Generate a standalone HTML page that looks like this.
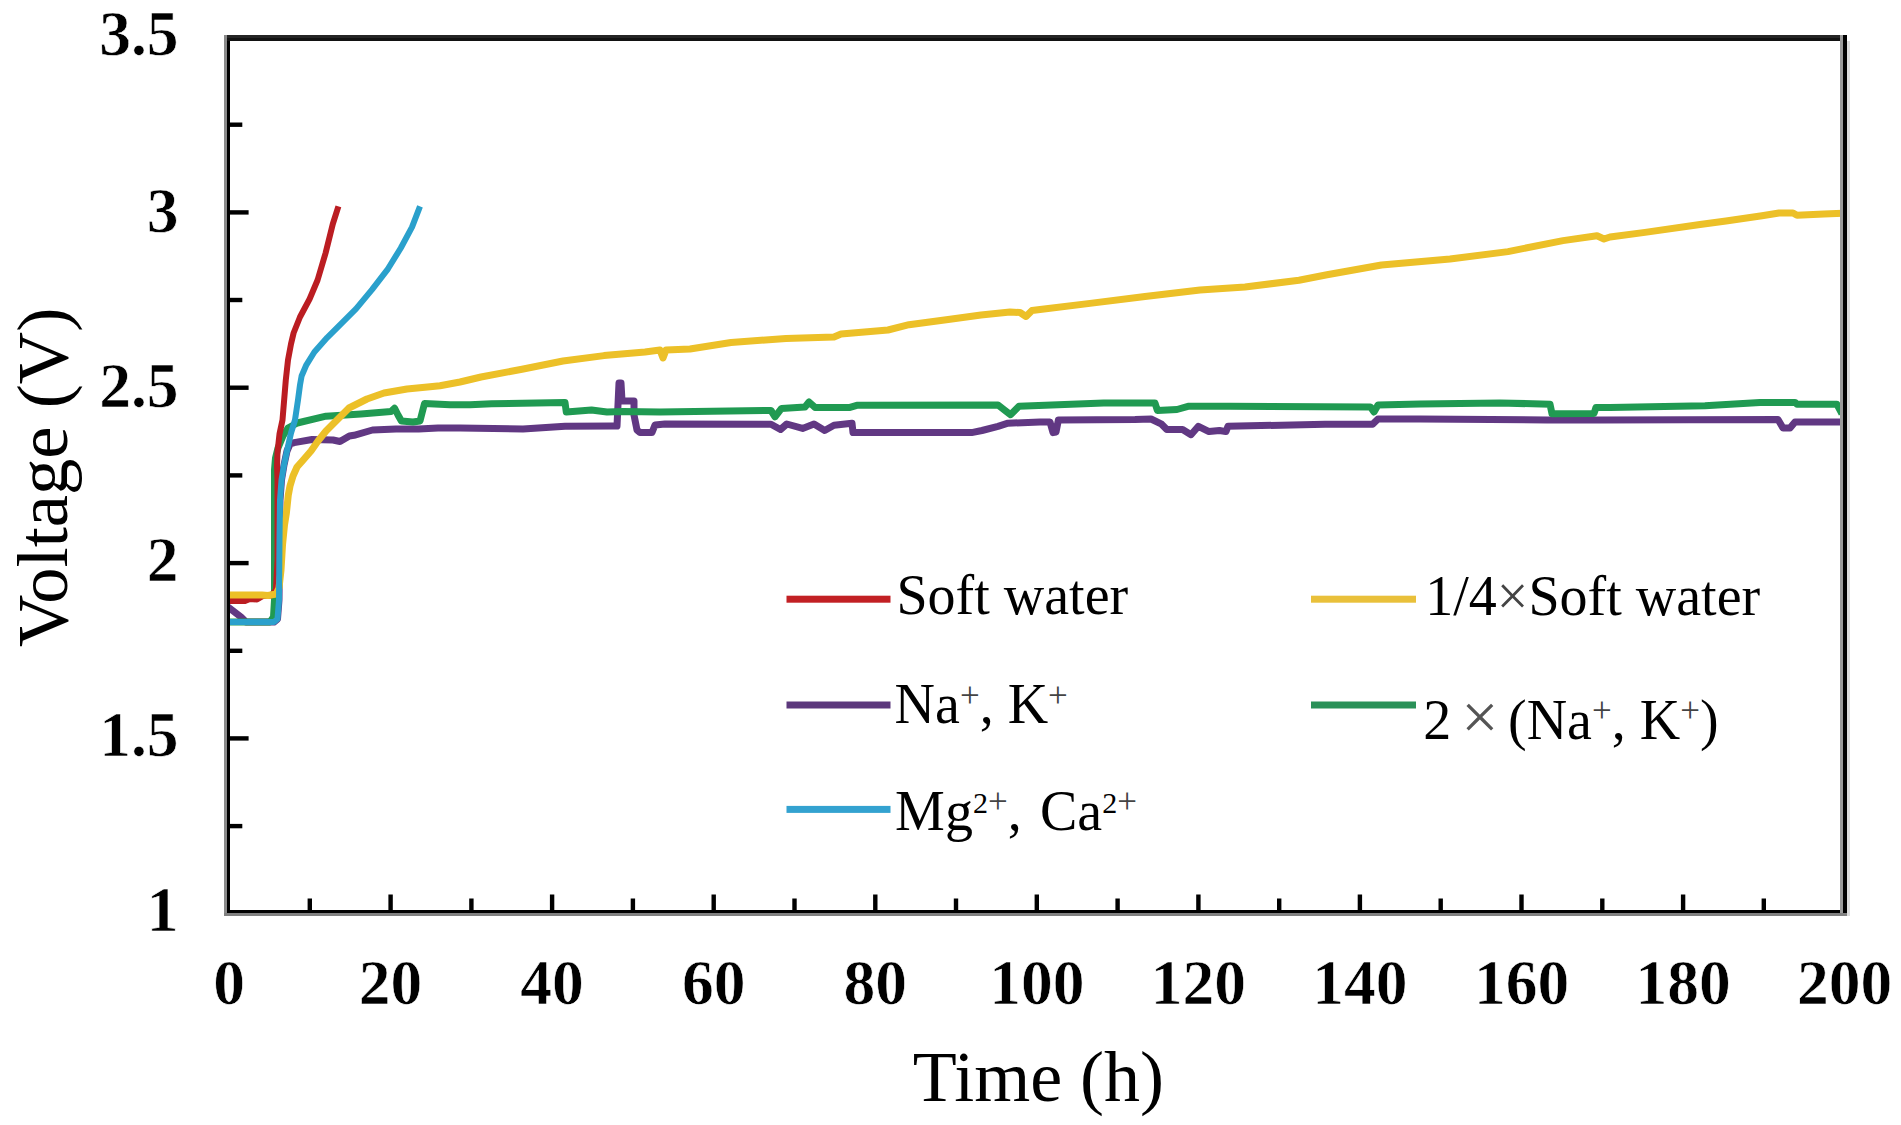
<!DOCTYPE html><html><head><meta charset="utf-8"><title>Voltage vs Time</title><style>html,body{margin:0;padding:0;background:#fff;}svg{display:block;}text{font-family:"Liberation Serif","Times New Roman",serif;fill:#000;}.tl{stroke:#fff;stroke-width:0.6px;}</style></head><body>
<svg width="1901" height="1125" viewBox="0 0 1901 1125">
<rect width="1901" height="1125" fill="#fff"/>
<polyline points="228.0,607.0 241.0,617.0 246.0,622.0 274.0,622.0 277.5,619.0 279.0,600.0 279.5,540.0 280.0,500.0 281.5,480.0 284.0,465.0 287.0,451.0 290.0,444.0 294.2,442.6 312.0,439.5 333.0,440.0 340.0,441.5 349.4,436.0 354.0,435.3 372.5,430.0 396.0,429.0 418.7,429.0 438.0,428.0 460.0,427.9 523.0,429.0 565.0,426.3 612.0,426.0 617.0,426.0 619.0,383.0 621.0,383.0 622.0,401.0 634.0,401.0 634.0,415.0 637.0,430.0 640.0,432.5 652.0,432.5 655.0,425.0 665.0,424.0 771.0,424.2 780.5,429.5 786.8,424.0 802.6,428.4 814.0,424.0 824.7,430.5 834.0,425.3 852.0,423.2 853.0,432.6 971.6,432.6 982.0,430.5 998.0,426.3 1008.0,423.2 1040.0,422.0 1050.0,422.0 1053.0,432.6 1056.0,432.0 1058.4,420.0 1135.0,419.5 1151.0,419.0 1161.6,424.2 1166.8,429.5 1182.6,429.5 1191.0,434.7 1198.4,426.3 1209.0,431.6 1219.5,430.5 1226.0,431.6 1228.0,426.3 1325.0,424.2 1372.6,424.2 1378.0,419.0 1420.0,419.0 1547.0,420.0 1600.0,420.0 1778.0,419.5 1783.0,428.0 1790.0,428.0 1795.0,422.0 1840.0,422.0" fill="none" stroke="#613883" stroke-width="7.0" stroke-linejoin="round" stroke-linecap="butt"/>
<polyline points="229.0,622.0 270.0,622.0 273.5,617.0 274.5,600.0 274.5,470.0 275.5,458.0 278.0,448.0 283.0,436.0 288.0,428.0 297.3,423.0 326.0,416.2 361.0,414.0 391.0,411.6 394.5,408.2 398.0,415.0 401.4,421.0 413.0,422.0 420.0,421.0 424.5,403.5 450.0,404.7 470.0,404.7 491.6,403.7 565.0,402.6 566.3,412.0 591.5,410.0 607.0,412.0 623.0,411.5 660.0,412.0 771.0,410.5 775.0,416.8 781.5,408.4 805.0,407.0 809.0,402.0 815.0,407.4 850.0,407.4 856.8,405.3 998.0,405.0 1010.5,414.7 1019.0,406.3 1103.7,403.0 1155.0,403.0 1157.4,410.5 1177.0,409.5 1188.0,406.3 1230.0,406.3 1370.5,407.0 1374.0,412.0 1378.0,405.0 1420.0,404.0 1500.0,403.0 1550.0,404.2 1552.0,413.7 1594.0,413.5 1596.0,407.4 1610.0,407.5 1705.0,405.7 1760.0,402.4 1795.0,402.4 1797.0,404.3 1837.0,404.3 1842.0,414.0" fill="none" stroke="#209a52" stroke-width="7.0" stroke-linejoin="round" stroke-linecap="butt"/>
<polyline points="230.0,601.0 245.0,601.0 250.0,599.0 257.0,599.5 263.0,596.0 271.0,595.5 276.0,590.0 277.5,560.0 277.5,480.0 277.0,466.0 277.5,452.0 279.5,434.0 282.5,420.0 285.8,380.0 288.0,360.0 291.0,344.0 293.6,333.0 300.0,317.0 309.6,299.0 317.6,280.0 325.6,253.0 332.8,224.0 338.4,206.4" fill="none" stroke="#bb1d22" stroke-width="6.0" stroke-linejoin="round" stroke-linecap="butt"/>
<polyline points="229.0,595.0 262.0,595.0 268.0,595.5 276.0,594.0 279.0,588.0 281.0,570.0 282.5,545.0 284.5,525.0 286.4,513.0 288.3,495.0 290.0,486.0 293.0,476.0 297.0,467.0 303.0,460.2 311.0,451.0 318.0,441.0 326.0,431.0 338.0,419.0 349.0,408.0 367.0,399.0 384.0,393.0 407.0,389.0 430.0,386.8 440.0,385.7 460.0,382.0 481.0,377.0 522.0,369.2 563.0,361.0 604.0,355.6 645.0,352.0 660.0,350.0 663.0,358.0 666.0,350.0 690.0,349.0 731.0,342.5 786.0,338.4 834.0,337.0 841.0,334.0 888.0,330.0 909.0,324.7 950.0,319.2 981.0,315.0 1010.0,312.0 1020.0,312.5 1026.0,316.5 1032.0,310.5 1040.0,309.5 1090.0,303.4 1145.0,296.5 1200.0,290.0 1245.0,287.0 1299.0,280.2 1327.0,274.7 1381.5,265.0 1450.0,259.0 1508.0,251.6 1563.0,240.6 1597.0,235.8 1604.0,239.0 1610.0,237.0 1645.0,232.4 1700.0,224.5 1726.0,221.0 1762.0,215.8 1779.0,213.0 1793.0,213.0 1797.0,215.3 1824.0,214.0 1849.0,213.0" fill="none" stroke="#ecc028" stroke-width="7.0" stroke-linejoin="round" stroke-linecap="butt"/>
<polyline points="229.0,622.0 274.0,622.0 277.5,619.0 279.0,600.0 279.5,540.0 280.0,500.0 281.5,480.0 284.0,465.0 287.0,451.0 291.0,433.0 295.0,420.0 298.0,400.0 300.0,385.0 301.6,376.0 306.4,364.8 314.4,352.0 327.2,337.6 340.0,324.8 356.0,308.8 372.0,289.6 388.0,268.8 400.8,248.0 412.0,227.2 420.0,206.4" fill="none" stroke="#2aa0cc" stroke-width="6.0" stroke-linejoin="round" stroke-linecap="butt"/>
<g shape-rendering="crispEdges">
<rect x="224" y="35" width="3" height="881" fill="#8a8a8a"/>
<rect x="227" y="35" width="3" height="878" fill="#000"/>
<rect x="224" y="913" width="1623" height="3" fill="#808080"/>
<rect x="227" y="910" width="1620" height="3" fill="#000"/>
<rect x="227" y="35" width="1620" height="3" fill="#252525"/>
<rect x="227" y="38" width="1620" height="3" fill="#121212"/>
<rect x="1840" y="35" width="3" height="878" fill="#9a9a9a"/>
<rect x="1843" y="35" width="4" height="878" fill="#000"/>
<rect x="1847" y="41" width="3" height="875" fill="#dcdcdc"/>
</g>
<g><rect x="307.6" y="898.5" width="4.4" height="11.5" fill="#000"/><rect x="388.4" y="894.5" width="4.4" height="15.5" fill="#000"/><rect x="469.2" y="898.5" width="4.4" height="11.5" fill="#000"/><rect x="549.9" y="894.5" width="4.4" height="15.5" fill="#000"/><rect x="630.7" y="898.5" width="4.4" height="11.5" fill="#000"/><rect x="711.5" y="894.5" width="4.4" height="15.5" fill="#000"/><rect x="792.3" y="898.5" width="4.4" height="11.5" fill="#000"/><rect x="873.1" y="894.5" width="4.4" height="15.5" fill="#000"/><rect x="953.8" y="898.5" width="4.4" height="11.5" fill="#000"/><rect x="1034.6" y="894.5" width="4.4" height="15.5" fill="#000"/><rect x="1115.4" y="898.5" width="4.4" height="11.5" fill="#000"/><rect x="1196.2" y="894.5" width="4.4" height="15.5" fill="#000"/><rect x="1277.0" y="898.5" width="4.4" height="11.5" fill="#000"/><rect x="1357.7" y="894.5" width="4.4" height="15.5" fill="#000"/><rect x="1438.5" y="898.5" width="4.4" height="11.5" fill="#000"/><rect x="1519.3" y="894.5" width="4.4" height="15.5" fill="#000"/><rect x="1600.1" y="898.5" width="4.4" height="11.5" fill="#000"/><rect x="1680.9" y="894.5" width="4.4" height="15.5" fill="#000"/><rect x="1761.6" y="898.5" width="4.4" height="11.5" fill="#000"/><rect x="230" y="823.9" width="12.3" height="4.4" fill="#000"/><rect x="230" y="736.2" width="18.6" height="4.4" fill="#000"/><rect x="230" y="648.6" width="12.3" height="4.4" fill="#000"/><rect x="230" y="560.9" width="18.6" height="4.4" fill="#000"/><rect x="230" y="473.2" width="12.3" height="4.4" fill="#000"/><rect x="230" y="385.5" width="18.6" height="4.4" fill="#000"/><rect x="230" y="297.8" width="12.3" height="4.4" fill="#000"/><rect x="230" y="210.2" width="18.6" height="4.4" fill="#000"/><rect x="230" y="122.5" width="12.3" height="4.4" fill="#000"/></g>
<text x="229.0" y="1004.4" font-size="63.5" font-weight="bold" text-anchor="middle" class="tl">0</text>
<text x="390.6" y="1004.4" font-size="63.5" font-weight="bold" text-anchor="middle" class="tl">20</text>
<text x="552.1" y="1004.4" font-size="63.5" font-weight="bold" text-anchor="middle" class="tl">40</text>
<text x="713.7" y="1004.4" font-size="63.5" font-weight="bold" text-anchor="middle" class="tl">60</text>
<text x="875.3" y="1004.4" font-size="63.5" font-weight="bold" text-anchor="middle" class="tl">80</text>
<text x="1036.8" y="1004.4" font-size="63.5" font-weight="bold" text-anchor="middle" class="tl">100</text>
<text x="1198.4" y="1004.4" font-size="63.5" font-weight="bold" text-anchor="middle" class="tl">120</text>
<text x="1359.9" y="1004.4" font-size="63.5" font-weight="bold" text-anchor="middle" class="tl">140</text>
<text x="1521.5" y="1004.4" font-size="63.5" font-weight="bold" text-anchor="middle" class="tl">160</text>
<text x="1683.1" y="1004.4" font-size="63.5" font-weight="bold" text-anchor="middle" class="tl">180</text>
<text x="1844.6" y="1004.4" font-size="63.5" font-weight="bold" text-anchor="middle" class="tl">200</text>
<text x="178.5" y="55.3" font-size="63.5" font-weight="bold" text-anchor="end" class="tl">3.5</text>
<text x="178.5" y="231.5" font-size="63.5" font-weight="bold" text-anchor="end" class="tl">3</text>
<text x="178.5" y="407.1" font-size="63.5" font-weight="bold" text-anchor="end" class="tl">2.5</text>
<text x="178.5" y="580.8" font-size="63.5" font-weight="bold" text-anchor="end" class="tl">2</text>
<text x="178.5" y="755.5" font-size="63.5" font-weight="bold" text-anchor="end" class="tl">1.5</text>
<text x="178.5" y="930.7" font-size="63.5" font-weight="bold" text-anchor="end" class="tl">1</text>
<text x="1038.4" y="1100.5" font-size="72" text-anchor="middle">Time (h)</text>
<text transform="translate(67,477.2) rotate(-90)" font-size="72.6" text-anchor="middle">Voltage (V)</text>
<rect x="786.5" y="595.7" width="104.0" height="7" fill="#c22024"/>
<rect x="786.5" y="701.5" width="104.0" height="7" fill="#5c387c"/>
<rect x="786.5" y="805.9" width="104.0" height="7" fill="#33a2d0"/>
<rect x="1311.0" y="595.7" width="105.0" height="7" fill="#e9c03a"/>
<rect x="1311.0" y="701.5" width="105.0" height="7" fill="#2a9158"/>
<text x="896.45" y="614.3" font-size="56">Soft water</text>
<text x="894.6" y="723.2" font-size="56">Na<tspan font-size="35" dy="-16.7" fill="#444">+</tspan><tspan dy="16.7">, K</tspan><tspan font-size="35" dy="-16.7" fill="#444">+</tspan></text>
<text x="895.1" y="829.9" font-size="56">Mg<tspan font-size="30" dy="-16.7">2</tspan><tspan font-size="35" fill="#444">+</tspan><tspan dy="16.7">,</tspan><tspan x="1040">Ca</tspan><tspan font-size="30" dy="-16.7">2</tspan><tspan font-size="35" fill="#444">+</tspan></text>
<text x="1425.3" y="615" font-size="56">1/4<tspan fill="#444">×</tspan>Soft water</text>
<text x="1423.3" y="738.8" font-size="56">2<tspan x="1461.2" font-size="66" fill="#555">×</tspan><tspan x="1508">(Na</tspan><tspan font-size="35" dy="-16.7" fill="#444">+</tspan><tspan dy="16.7">, K</tspan><tspan font-size="35" dy="-16.7" fill="#444">+</tspan><tspan dy="16.7">)</tspan></text>
</svg></body></html>
